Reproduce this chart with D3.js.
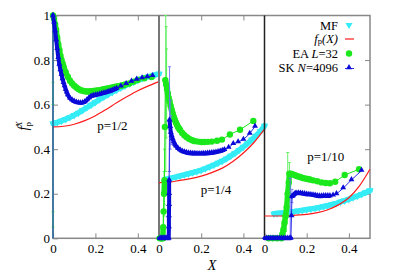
<!DOCTYPE html>
<html>
<head>
<meta charset="utf-8">
<script src="https://cdn.jsdelivr.net/npm/d3@7"></script>
<style>
  body { margin: 0; background: #fff; }
  svg { display: block; }
</style>
</head>
<body>
<div id="chart"></div>
<script>
// ---- data: [X, value] ----
const panelLabels = ["p=1/2", "p=1/4", "p=1/10"];
const xTicks = [0, 0.2, 0.4];
const yTicks = [0, 0.2, 0.4, 0.6, 0.8, 1];
const legendLabels = ["MF", "fp", "EA", "SK"];

// p = 1/2
const mfHalf = [[0,0.515],[0.02,0.52],[0.04,0.527],[0.06,0.535],[0.08,0.543],[0.1,0.553],[0.12,0.563],[0.14,0.575],[0.16,0.587],[0.18,0.599],[0.2,0.611],[0.22,0.623],[0.24,0.635],[0.26,0.646],[0.28,0.656],[0.3,0.666],[0.32,0.676],[0.34,0.685],[0.36,0.694],[0.38,0.702],[0.4,0.71],[0.42,0.717],[0.44,0.723],[0.46,0.728],[0.48,0.733],[0.5,0.738]];
const fpHalf = [[0,0.5],[0.05,0.503],[0.1,0.512],[0.15,0.528],[0.2,0.55],[0.25,0.578],[0.3,0.608],[0.35,0.636],[0.4,0.662],[0.45,0.684],[0.5,0.703]];
const eaHalf = [[0,0],[0,1],[0.005,0.985],[0.01,0.96],[0.015,0.935],[0.02,0.9],[0.025,0.87],[0.03,0.845],[0.035,0.82],[0.04,0.8],[0.045,0.785],[0.05,0.77],[0.06,0.745],[0.07,0.725],[0.08,0.707],[0.09,0.695],[0.1,0.685],[0.11,0.677],[0.12,0.67],[0.13,0.665],[0.14,0.662],[0.15,0.66],[0.16,0.659],[0.17,0.659],[0.18,0.66],[0.19,0.661],[0.2,0.662],[0.21,0.664],[0.22,0.665],[0.23,0.667],[0.24,0.669],[0.25,0.671],[0.26,0.673],[0.27,0.675],[0.28,0.677],[0.29,0.679],[0.3,0.681],[0.31,0.683],[0.32,0.685],[0.33,0.687],[0.34,0.69],[0.36,0.695],[0.38,0.703],[0.4,0.711],[0.43,0.718],[0.465,0.724]];
const skHalf = [[0,0],[0,1],[0.005,0.97],[0.01,0.93],[0.015,0.89],[0.02,0.85],[0.025,0.81],[0.03,0.78],[0.035,0.755],[0.04,0.735],[0.045,0.715],[0.05,0.698],[0.055,0.683],[0.06,0.668],[0.065,0.655],[0.07,0.643],[0.08,0.628],[0.09,0.62],[0.1,0.614],[0.11,0.61],[0.12,0.608],[0.13,0.607],[0.14,0.608],[0.15,0.612],[0.16,0.62],[0.17,0.63],[0.18,0.637],[0.19,0.64],[0.2,0.642],[0.21,0.644],[0.22,0.646],[0.23,0.649],[0.24,0.652],[0.25,0.654],[0.26,0.657],[0.27,0.66],[0.28,0.664],[0.29,0.668],[0.3,0.672],[0.32,0.682],[0.345,0.693],[0.37,0.704],[0.395,0.713],[0.42,0.719],[0.445,0.724],[0.47,0.729]];
const eaErrHalf = [[0,0.05,0.12],[0,0.6,0.7]];
const skErrHalf = [];

// p = 1/4
const mfQuarter = [[0.03,0.264],[0.04,0.267],[0.06,0.271],[0.08,0.275],[0.1,0.28],[0.12,0.285],[0.14,0.29],[0.16,0.295],[0.18,0.3],[0.2,0.306],[0.22,0.313],[0.24,0.321],[0.26,0.329],[0.28,0.338],[0.3,0.347],[0.32,0.358],[0.34,0.37],[0.36,0.382],[0.38,0.396],[0.4,0.41],[0.42,0.426],[0.44,0.443],[0.46,0.46],[0.48,0.48],[0.5,0.505]];
const fpQuarter = [[0,0.25],[0.05,0.252],[0.1,0.26],[0.15,0.268],[0.2,0.279],[0.25,0.295],[0.3,0.315],[0.35,0.345],[0.4,0.383],[0.45,0.43],[0.5,0.49]];
const eaQuarter = [[0,0],[0.005,0],[0.01,0],[0.015,0],[0.018,0],[0.02,0.05],[0.022,0.12],[0.024,0.2],[0.026,0.26],[0.028,0.5],[0.03,0.71],[0.034,0.69],[0.038,0.67],[0.042,0.65],[0.046,0.63],[0.05,0.615],[0.055,0.595],[0.06,0.577],[0.065,0.56],[0.07,0.545],[0.075,0.532],[0.08,0.52],[0.085,0.51],[0.09,0.5],[0.095,0.493],[0.1,0.486],[0.11,0.473],[0.12,0.463],[0.13,0.455],[0.14,0.448],[0.15,0.443],[0.16,0.439],[0.17,0.436],[0.185,0.434],[0.2,0.432],[0.215,0.432],[0.232,0.433],[0.25,0.434],[0.275,0.438],[0.298,0.443],[0.336,0.466],[0.384,0.487],[0.447,0.527]];
const skQuarter = [[0,0],[0.005,0],[0.01,0],[0.015,0],[0.02,0],[0.025,0],[0.03,0],[0.035,0],[0.04,0],[0.046,0],[0.047,0.05],[0.047,0.1],[0.048,0.15],[0.048,0.2],[0.048,0.26],[0.05,0.53],[0.053,0.5],[0.056,0.475],[0.06,0.46],[0.065,0.445],[0.07,0.432],[0.075,0.422],[0.08,0.414],[0.09,0.403],[0.1,0.396],[0.11,0.39],[0.12,0.387],[0.13,0.384],[0.14,0.382],[0.15,0.381],[0.16,0.38],[0.17,0.38],[0.18,0.379],[0.19,0.379],[0.2,0.379],[0.21,0.38],[0.22,0.38],[0.23,0.381],[0.24,0.382],[0.25,0.383],[0.26,0.384],[0.27,0.386],[0.28,0.388],[0.29,0.39],[0.3,0.393],[0.31,0.397],[0.33,0.407],[0.352,0.424],[0.375,0.432],[0.4,0.443],[0.43,0.47],[0.455,0.502]];
const eaErrQuarter = [[0.02,0,0.12],[0.022,0.04,0.2],[0.024,0.1,0.3],[0.026,0.15,0.4],[0.032,0.3,1.0],[0.034,0.45,0.95],[0.036,0.5,0.85]];
const skErrQuarter = [[0.05,0.3,0.77],[0.053,0.4,0.62],[0.056,0.42,0.55]];

// p = 1/10
const mfTenth = [[0.045,0.11],[0.06,0.112],[0.08,0.114],[0.1,0.116],[0.12,0.118],[0.14,0.12],[0.16,0.123],[0.18,0.126],[0.2,0.129],[0.22,0.132],[0.24,0.135],[0.26,0.139],[0.28,0.143],[0.3,0.147],[0.32,0.152],[0.34,0.157],[0.36,0.163],[0.38,0.169],[0.4,0.176],[0.42,0.183],[0.44,0.19],[0.46,0.198],[0.48,0.206],[0.5,0.215]];
const fpTenth = [[0,0.1],[0.05,0.1],[0.1,0.101],[0.15,0.104],[0.2,0.107],[0.25,0.115],[0.3,0.128],[0.35,0.15],[0.4,0.182],[0.45,0.235],[0.5,0.31]];
const eaTenth = [[0,0],[0.02,0],[0.04,0],[0.06,0],[0.08,0],[0.085,0.02],[0.09,0.04],[0.095,0.07],[0.1,0.1],[0.105,0.14],[0.11,0.2],[0.115,0.25],[0.118,0.29],[0.125,0.29],[0.135,0.287],[0.145,0.283],[0.155,0.279],[0.165,0.276],[0.175,0.273],[0.185,0.27],[0.195,0.268],[0.205,0.266],[0.215,0.264],[0.23,0.26],[0.25,0.256],[0.27,0.251],[0.29,0.248],[0.31,0.247],[0.335,0.254],[0.38,0.284],[0.448,0.31]];
const skTenth = [[0,0],[0.01,0],[0.02,0],[0.03,0],[0.04,0],[0.05,0],[0.06,0],[0.07,0],[0.08,0],[0.09,0],[0.1,0],[0.11,0],[0.12,0],[0.125,0],[0.128,0.1],[0.13,0.187],[0.135,0.19],[0.14,0.195],[0.145,0.2],[0.15,0.202],[0.16,0.203],[0.17,0.202],[0.18,0.2],[0.19,0.199],[0.2,0.197],[0.21,0.196],[0.22,0.195],[0.23,0.194],[0.24,0.192],[0.25,0.19],[0.26,0.189],[0.27,0.189],[0.28,0.19],[0.29,0.19],[0.3,0.19],[0.31,0.19],[0.325,0.193],[0.341,0.199],[0.373,0.225],[0.412,0.262],[0.46,0.304]];
const eaErrTenth = [[0.09,0,0.1],[0.1,0.03,0.2],[0.11,0.15,0.385],[0.118,0.24,0.34]];
const skErrTenth = [[0.122,0,0.27],[0.13,0.16,0.22]];

// ---- layout ----
const width = 395, height = 276;
const plotTop = 15.5, plotBottom = 238.3;
const panelRanges = [[53, 159], [159, 264.5], [264.5, 370]];
const fontFam = "'Liberation Serif', 'Times New Roman', Times, 'DejaVu Serif', serif";

const panels = [
  { label: panelLabels[0], mf: mfHalf, fp: fpHalf, ea: eaHalf, sk: skHalf, eaErr: eaErrHalf, skErr: skErrHalf, lx: 0.28, ly: 0.486, topTicks: true },
  { label: panelLabels[1], mf: mfQuarter, fp: fpQuarter, ea: eaQuarter, sk: skQuarter, eaErr: eaErrQuarter, skErr: skErrQuarter, lx: 0.27, ly: 0.2, topTicks: true },
  { label: panelLabels[2], mf: mfTenth, fp: fpTenth, ea: eaTenth, sk: skTenth, eaErr: eaErrTenth, skErr: skErrTenth, lx: 0.29, ly: 0.348, topTicks: false }
];

const colMF = "#33ecf6", colFP = "#ff1a1a", colEA = "#1be81b", colSK = "#0a0ad8";

const svg = d3.select("#chart").append("svg")
  .attr("width", width)
  .attr("height", height)
  .attr("font-family", fontFam);

const y = d3.scaleLinear().domain([0, 1]).range([plotBottom, plotTop]);

// y axis, labels on the left
const gy = svg.append("g")
  .attr("transform", `translate(${panelRanges[0][0]},0)`)
  .call(d3.axisLeft(y).tickValues(yTicks).tickSizeInner(-5).tickSizeOuter(0).tickPadding(3).tickFormat(d3.format("")));
gy.attr("font-size", 13).attr("font-family", fontFam);
gy.select(".domain").remove();
gy.selectAll("line").attr("stroke", "#888");

// right ticks
const gr = svg.append("g")
  .attr("transform", `translate(${panelRanges[2][1]},0)`)
  .call(d3.axisRight(y).tickValues([0.2, 0.4, 0.6, 0.8]).tickSizeInner(-5).tickSizeOuter(0).tickFormat(""));
gr.select(".domain").remove();
gr.selectAll("line").attr("stroke", "#888");

// frame
svg.append("rect")
  .attr("x", panelRanges[0][0]).attr("y", plotTop)
  .attr("width", panelRanges[2][1] - panelRanges[0][0])
  .attr("height", plotBottom - plotTop)
  .attr("fill", "none").attr("stroke", "#888").attr("stroke-width", 1.5);

const tri = d3.symbol().type(d3.symbolTriangle);

// split a series into runs of closely spaced points (drawn as a thick band)
function denseRuns(pts, maxDx, maxDy) {
  const runs = [];
  let cur = [pts[0]];
  for (let k = 1; k < pts.length; k++) {
    const a = pts[k - 1], b = pts[k];
    if (b[0] - a[0] <= maxDx && Math.abs(b[1] - a[1]) <= maxDy) cur.push(b);
    else { if (cur.length > 1) runs.push(cur); cur = [b]; }
  }
  if (cur.length > 1) runs.push(cur);
  return runs;
}

panels.forEach((p, i) => {
  const x = d3.scaleLinear().domain([0, 0.5]).range(panelRanges[i]);

  const gx = svg.append("g")
    .attr("transform", `translate(0,${plotBottom})`)
    .call(d3.axisBottom(x).tickValues(xTicks).tickSizeInner(-5).tickSizeOuter(0).tickPadding(5).tickFormat(d3.format("")));
  gx.attr("font-size", 13).attr("font-family", fontFam);
  gx.select(".domain").remove();
  gx.selectAll("line").attr("stroke", "#888");

  if (p.topTicks) {
    const gt = svg.append("g")
      .attr("transform", `translate(0,${plotTop})`)
      .call(d3.axisTop(x).tickValues([0.2, 0.4]).tickSizeInner(-5).tickSizeOuter(0).tickFormat(""));
    gt.select(".domain").remove();
    gt.selectAll("line").attr("stroke", "#888");
  }

  // divider on the left of panels 2 and 3
  if (i > 0) {
    svg.append("line")
      .attr("x1", panelRanges[i][0]).attr("x2", panelRanges[i][0])
      .attr("y1", plotTop).attr("y2", plotBottom)
      .attr("stroke", i === 1 ? "#777" : "#222")
      .attr("stroke-width", i === 1 ? 2 : 1.5);
  }

  const line = d3.line().x(d => x(d[0])).y(d => y(d[1]));
  const g = svg.append("g");

  // MF
  g.selectAll(null).data(denseRuns(p.mf, 0.021, 0.06)).join("path")
    .attr("d", line)
    .attr("fill", "none").attr("stroke", colMF).attr("stroke-width", 5.5).attr("stroke-linecap", "round");
  g.selectAll(null).data(p.mf).join("path")
    .attr("d", tri.size(24)())
    .attr("transform", d => `translate(${x(d[0])},${y(d[1])}) rotate(180)`)
    .attr("fill", colMF);

  // f_p(X)
  g.append("path").datum(p.fp)
    .attr("d", d3.line().x(d => x(d[0])).y(d => y(d[1])).curve(d3.curveMonotoneX))
    .attr("fill", "none").attr("stroke", colFP).attr("stroke-width", 1.2);

  // EA
  g.selectAll(null).data(p.eaErr).join("path")
    .attr("d", d => `M${x(d[0])},${y(d[1])}V${y(d[2])}M${x(d[0]) - 1.5},${y(d[1])}h3M${x(d[0]) - 1.5},${y(d[2])}h3`)
    .attr("stroke", "#55ee55").attr("stroke-width", 0.9).attr("fill", "none");
  g.append("path").datum(p.ea)
    .attr("d", line)
    .attr("fill", "none").attr("stroke", colEA).attr("stroke-width", 1);
  g.selectAll(null).data(denseRuns(p.ea, 0.011, 0.06)).join("path")
    .attr("d", line)
    .attr("fill", "none").attr("stroke", colEA).attr("stroke-width", 5.5).attr("stroke-linecap", "round");
  g.selectAll(null).data(p.ea.filter(d => d[1] > 0 || d[0] > 0)).join("circle")
    .attr("cx", d => x(d[0])).attr("cy", d => y(d[1])).attr("r", 3.2)
    .attr("fill", colEA);

  // SK
  g.selectAll(null).data(p.skErr).join("path")
    .attr("d", d => `M${x(d[0])},${y(d[1])}V${y(d[2])}M${x(d[0]) - 1.5},${y(d[1])}h3M${x(d[0]) - 1.5},${y(d[2])}h3`)
    .attr("stroke", "#6f6fff").attr("stroke-width", 0.9).attr("fill", "none");
  g.append("path").datum(p.sk)
    .attr("d", line)
    .attr("fill", "none").attr("stroke", "#2a2ae6").attr("stroke-width", 1);
  g.selectAll(null).data(denseRuns(p.sk, 0.011, 0.06)).join("path")
    .attr("d", line)
    .attr("fill", "none").attr("stroke", colSK).attr("stroke-width", 4).attr("stroke-linecap", "round");
  g.selectAll(null).data(p.sk.filter(d => d[1] > 0 || d[0] > 0)).join("path")
    .attr("d", tri.size(15)())
    .attr("transform", d => `translate(${x(d[0])},${y(d[1]) - 0.5})`)
    .attr("fill", colSK);

  // panel label
  svg.append("text")
    .attr("x", x(p.lx)).attr("y", y(p.ly))
    .attr("text-anchor", "middle").attr("font-size", 13)
    .text(p.label);
});

// legend
const legendY = [25, 39, 53.5, 67.5];
const lg = svg.append("g").attr("font-size", 12.5).attr("text-anchor", "end");
lg.append("text").attr("x", 338).attr("y", legendY[0] + 4.5).text(legendLabels[0]);
const t1 = lg.append("text").attr("x", 338).attr("y", legendY[1] + 3.5);
t1.append("tspan").attr("font-style", "italic").text("f");
t1.append("tspan").attr("font-size", 8.5).attr("dy", 1.5).text("p");
t1.append("tspan").attr("font-style", "italic").attr("dy", -1.5).text("(X)");
const t2 = lg.append("text").attr("x", 338).attr("y", legendY[2] + 4.5);
t2.append("tspan").text("EA ");
t2.append("tspan").attr("font-style", "italic").text("L");
t2.append("tspan").text("=32");
const t3 = lg.append("text").attr("x", 338).attr("y", legendY[3] + 4.5);
t3.append("tspan").text("SK ");
t3.append("tspan").attr("font-style", "italic").text("N");
t3.append("tspan").text("=4096");

lg.append("path").attr("d", tri.size(22)())
  .attr("transform", `translate(349,${legendY[0]}) rotate(180)`).attr("fill", colMF);
lg.append("line").attr("x1", 345).attr("x2", 354).attr("y1", legendY[1]).attr("y2", legendY[1])
  .attr("stroke", colFP).attr("stroke-width", 1.2);
lg.append("circle").attr("cx", 349).attr("cy", legendY[2]).attr("r", 3.2).attr("fill", colEA);
lg.append("line").attr("x1", 345).attr("x2", 354).attr("y1", legendY[3] + 1).attr("y2", legendY[3] + 1)
  .attr("stroke", "#2a2ae6").attr("stroke-width", 1);
lg.append("path").attr("d", tri.size(15)())
  .attr("transform", `translate(349,${legendY[3]})`).attr("fill", colSK);

// axis titles
svg.append("text")
  .attr("x", 212).attr("y", 270)
  .attr("text-anchor", "middle").attr("font-size", 14).attr("font-style", "italic")
  .text("X");

const yl = svg.append("text")
  .attr("transform", "translate(28,126) rotate(-90)")
  .attr("text-anchor", "middle").attr("font-size", 14);
yl.append("tspan").attr("font-style", "italic").text("f");
yl.append("tspan").attr("font-size", 9).attr("dy", 3).text("p");
yl.append("tspan").attr("font-size", 9).attr("font-style", "italic").attr("dx", -5).attr("dy", -9).text("X");
</script>
</body>
</html>
